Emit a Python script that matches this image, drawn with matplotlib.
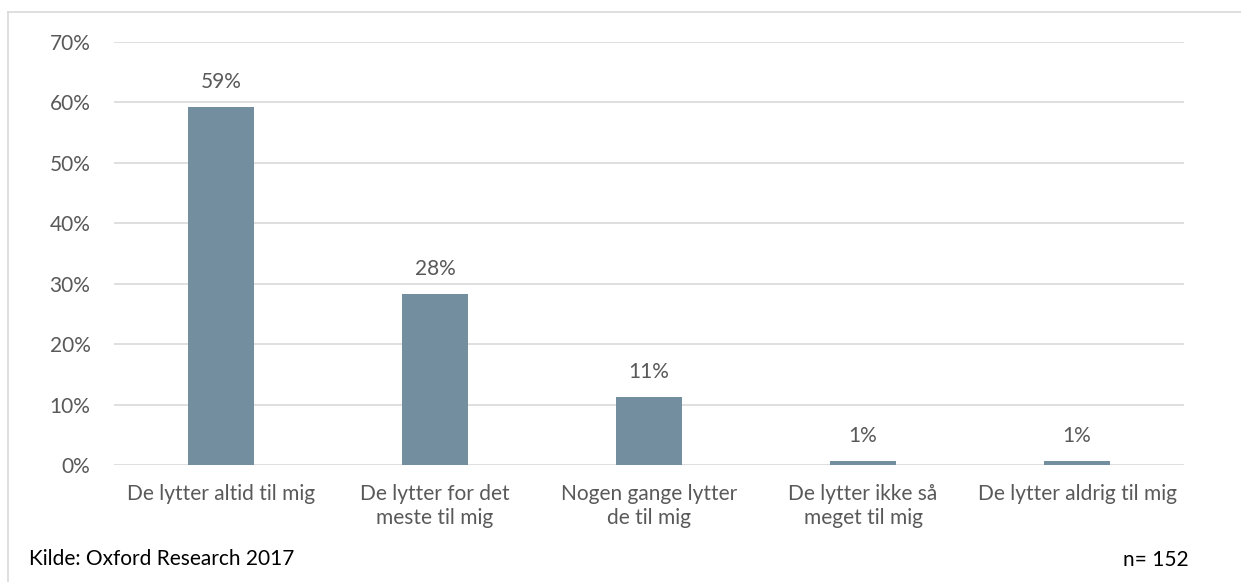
import matplotlib.pyplot as plt
from matplotlib.lines import Line2D

categories = ["De lytter altid til mig", "De lytter for det\nmeste til mig",
              "Nogen gange lytter\nde til mig", "De lytter ikke så\nmeget til mig",
              "De lytter aldrig til mig"]
values = [59.2, 28.3, 11.2, 0.66, 0.66]
labels = ["59%", "28%", "11%", "1%", "1%"]
yticks = [0, 10, 20, 30, 40, 50, 60, 70]

plt.rcParams['font.family'] = ['Lato', 'DejaVu Sans']
text_col = '#595959'
fs = 15

fig = plt.figure(figsize=(12.41, 5.82), dpi=100)
ax = fig.add_axes([114 / 1241, 1 - 465 / 582, (1184 - 114) / 1241, (465 - 42) / 582])

x = range(len(categories))
ax.bar(x, values, width=0.31, color='#738f9f', zorder=3)
for xi, v, lab in zip(x, values, labels):
    ax.annotate(lab, (xi, v), xytext=(0, 11), textcoords='offset points',
                ha='center', va='bottom', fontsize=fs, color=text_col)

ax.set_xlim(-0.5, len(categories) - 0.5)
ax.set_ylim(0, 70)
ax.set_yticks(yticks)
ax.set_yticklabels([f"{t}%" for t in yticks], fontsize=fs, color=text_col)
ax.set_xticks(list(x))
ax.set_xticklabels(categories, fontsize=fs, color=text_col, linespacing=1.25)
ax.tick_params(axis='both', length=0)
ax.tick_params(axis='y', pad=17)
ax.tick_params(axis='x', pad=14)
ax.grid(axis='y', color='#d9d9d9', linewidth=1.2, zorder=0)
for s in ax.spines.values():
    s.set_visible(False)

# outer chart frame (left and top edges visible)
fig.add_artist(Line2D([8 / 1241, 8 / 1241], [0, 1 - 12 / 582], color='#d9d9d9', lw=1.2))
fig.add_artist(Line2D([8 / 1241, 1], [1 - 12 / 582, 1 - 12 / 582], color='#d9d9d9', lw=1.2))

fig.text(29 / 1241, 1 - 565 / 582, "Kilde: Oxford Research 2017", fontsize=fs,
         color='black', va='baseline')
fig.text(1189 / 1241, 1 - 566 / 582, "n= 152", fontsize=fs, color='black',
         ha='right', va='baseline')

fig.savefig("out.png", dpi=100)
